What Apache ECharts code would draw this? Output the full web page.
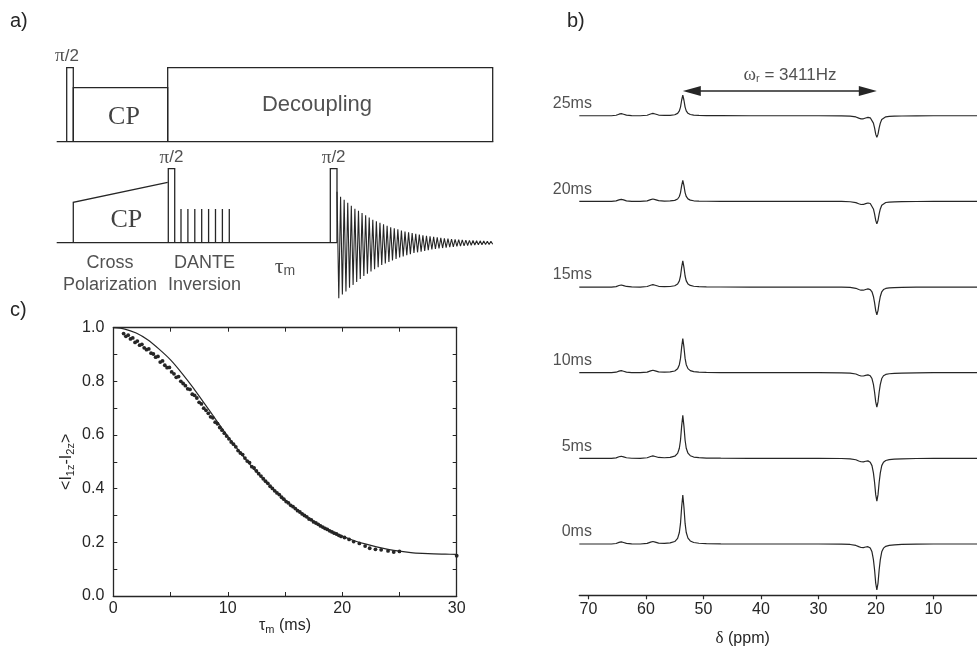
<!DOCTYPE html>
<html>
<head>
<meta charset="utf-8">
<script src="https://cdn.jsdelivr.net/npm/echarts@6.0.0/dist/echarts.min.js"></script>
<style>
  html, body { margin: 0; padding: 0; background: #fff; }
  #chart { width: 977px; height: 648px; }
</style>
</head>
<body>
<div id="chart"></div>
<script>
// ---------- (a) pulse sequence: time in arbitrary units 0–100, levels relative to a full pulse ----------
const protonBlocks = [[2.29, 3.80, 1.0], [3.80, 25.42, 0.73], [25.42, 99.86, 1.0]]; // [start, end, level]
const carbonRamp = [[3.80, 0.546], [25.42, 0.816]];
const carbonPulses = [[25.56, 27.03, 1.0], [62.67, 64.20, 1.0]];
const danteTimes = [28.47, 30.05, 31.63, 33.21, 34.79, 36.37, 37.95, 39.53];
const danteLevel = 0.455;
const fidSignal = [0.69, -0.75, 0.62, -0.70, 0.58, -0.66, 0.54, -0.61, 0.50, -0.57, 0.46, -0.53,
  0.43, -0.49, 0.40, -0.45, 0.37, -0.42, 0.34, -0.39, 0.31, -0.36, 0.29, -0.33, 0.27, -0.30,
  0.25, -0.28, 0.23, -0.26, 0.21, -0.24, 0.195, -0.22, 0.18, -0.20, 0.165, -0.185, 0.15, -0.17,
  0.14, -0.155, 0.13, -0.14, 0.12, -0.13, 0.11, -0.12, 0.10, -0.11, 0.092, -0.10, 0.085, -0.092,
  0.078, -0.085, 0.072, -0.078, 0.066, -0.072, 0.06, -0.066, 0.055, -0.06, 0.05, -0.055,
  0.046, -0.05, 0.042, -0.046, 0.038, -0.042, 0.035, -0.038, 0.032, -0.035, 0.029, -0.032,
  0.027, -0.029, 0.025, -0.027, 0.023, -0.025, 0.021, -0.023, 0.02, -0.02];

// ---------- (b) 13C spectra after DANTE inversion ----------
const ppmAxis = [71.6, 68, 66, 65.2, 64.7, 64.3, 63.9, 63.4, 62.5, 61, 59.8, 59.2, 58.8, 58.4, 57.8,
  56.8, 55.8, 55.0, 54.5, 54.2, 54.0, 53.8, 53.6, 53.4, 53.2, 53.0, 52.7, 52.3, 51.7, 50.8, 49.5,
  47, 42, 35, 30, 26, 24.5, 23.5, 23.0, 22.6, 22.2, 21.8, 21.4, 21.0, 20.7, 20.45, 20.25, 20.05,
  19.85, 19.65, 19.45, 19.25, 19.0, 18.7, 18.3, 17.7, 16.8, 15.5, 13, 10, 5, 0];
// line shape of the 53.6 ppm resonance (normalised)
const upfieldLine = [0, 0, 0, 0, 0, 0, 0, 0, 0, 0, 0.002, 0.003, 0.004, 0.005, 0.007,
  0.011, 0.022, 0.05, 0.115, 0.235, 0.42, 0.75, 1, 0.75, 0.42, 0.235, 0.12, 0.062, 0.03, 0.015, 0.007,
  0.003, 0, 0, 0, 0, 0, 0, 0, 0, 0, 0, 0, 0, 0, 0, 0, 0,
  0, 0, 0, 0, 0, 0, 0, 0, 0, 0, 0, 0, 0, 0];
// line shape of the inverted 19.9 ppm resonance (normalised)
const invertedLine = [0, 0, 0, 0, 0, 0, 0, 0, 0, 0, 0, 0, 0, 0, 0,
  0, 0, 0, 0, 0, 0, 0, 0, 0, 0, 0, 0, 0, 0, 0, 0,
  0, 0, 0, 0, 0.003, 0.006, 0.01, 0.013, 0.017, 0.022, 0.03, 0.045, 0.085, 0.17, 0.34, 0.56, 0.85,
  1, 0.85, 0.56, 0.34, 0.17, 0.09, 0.05, 0.03, 0.018, 0.01, 0.004, 0, 0, 0];
// small side bands and shoulder, common to all spectra
const minorLines = [0, 0, 0, 0.01, 0.032, 0.042, 0.03, 0.012, 0.002, 0, 0.01, 0.035, 0.047, 0.034, 0.012,
  0.003, 0, 0, 0, 0, 0, 0, 0, 0, 0, 0, 0, 0, 0, 0, 0,
  0, 0, 0, 0, 0, -0.004, -0.02, -0.042, -0.055, -0.052, -0.033, -0.012, -0.004, 0, 0, 0, 0,
  0, 0, 0, 0, 0, 0, 0, 0, 0, 0, 0, 0, 0, 0];
const mixingTimes = ['0ms', '5ms', '10ms', '15ms', '20ms', '25ms'];
const upfieldHeight = [1.0, 0.878, 0.694, 0.537, 0.429, 0.422];
const invertedDepth = [0.939, 0.871, 0.702, 0.565, 0.455, 0.441];
const ppmTicks = [10, 20, 30, 40, 50, 60, 70];
const rotorSpan = [53.6, 19.85]; // ppm of the two resonances, 3411 Hz apart

// ---------- (c) zz-magnetisation exchange curve ----------
const exchangePoints = [[0.9, 0.978], [1.1, 0.968], [1.3, 0.972], [1.5, 0.958], [1.7, 0.962], [1.9, 0.945],
  [2.1, 0.950], [2.3, 0.935], [2.5, 0.938], [2.7, 0.925], [2.9, 0.918], [3.1, 0.921], [3.3, 0.905],
  [3.5, 0.902], [3.7, 0.890], [3.9, 0.893], [4.1, 0.872], [4.3, 0.876], [4.5, 0.860], [4.7, 0.851],
  [4.9, 0.852], [5.1, 0.835], [5.3, 0.828], [5.5, 0.815], [5.7, 0.818], [5.9, 0.800], [6.1, 0.792],
  [6.3, 0.784], [6.5, 0.772], [6.7, 0.770], [6.9, 0.752], [7.1, 0.748], [7.3, 0.738], [7.5, 0.722],
  [7.7, 0.716], [7.9, 0.700], [8.1, 0.692], [8.3, 0.681], [8.5, 0.668], [8.7, 0.664], [8.9, 0.648],
  [9.1, 0.642], [9.3, 0.628], [9.5, 0.618], [9.7, 0.607], [9.9, 0.596], [10.1, 0.586], [10.3, 0.574],
  [10.5, 0.566], [10.7, 0.556], [10.9, 0.542], [11.1, 0.533], [11.3, 0.527], [11.5, 0.514],
  [11.7, 0.503], [11.9, 0.497], [12.1, 0.482], [12.3, 0.477], [12.5, 0.466], [12.7, 0.456],
  [12.9, 0.447], [13.1, 0.437], [13.3, 0.428], [13.5, 0.420], [13.7, 0.409], [13.9, 0.401],
  [14.1, 0.392], [14.3, 0.384], [14.5, 0.378], [14.7, 0.368], [14.9, 0.361], [15.1, 0.352],
  [15.3, 0.347], [15.5, 0.338], [15.7, 0.333], [15.9, 0.326], [16.1, 0.318], [16.3, 0.313],
  [16.5, 0.306], [16.7, 0.300], [16.9, 0.295], [17.1, 0.287], [17.3, 0.284], [17.5, 0.276],
  [17.7, 0.272], [17.9, 0.267], [18.1, 0.261], [18.3, 0.257], [18.5, 0.252], [18.7, 0.248],
  [18.9, 0.243], [19.1, 0.239], [19.3, 0.234], [19.5, 0.231], [19.7, 0.226], [19.9, 0.222],
  [20.2, 0.218], [20.6, 0.211], [21.0, 0.203], [21.5, 0.196], [22.0, 0.186], [22.4, 0.178],
  [22.9, 0.174], [23.4, 0.172], [24.0, 0.168], [24.5, 0.164], [25.0, 0.166], [30.0, 0.150]];
const fitCurve = [[0, 1.0], [1, 0.995], [2, 0.98], [3, 0.955], [4, 0.92], [5, 0.88], [6, 0.83],
  [7, 0.775], [8, 0.715], [9, 0.655], [10, 0.595], [11, 0.54], [12, 0.487], [13, 0.44], [14, 0.397],
  [15, 0.358], [16, 0.323], [17, 0.292], [18, 0.265], [19, 0.242], [20, 0.223], [21, 0.207],
  [22, 0.194], [23, 0.183], [24, 0.174], [25, 0.167], [26, 0.162], [27, 0.159], [28, 0.157],
  [29, 0.156], [30, 0.155]];
const timeTicks = [0, 10, 20, 30];

// ---------- drawing ----------
const INK = '#262626';
const SANS = '"Liberation Sans", Arial, Helvetica, sans-serif';
const SERIF = '"Liberation Serif", "Times New Roman", serif';
const CH1 = 1.365;      // proton channel drawn above the carbon channel
const STACK = 1.748;    // vertical step between spectra
const HEAD = 1.57;      // arrow head length in ppm

const rect = (s, e, h, base) => [[s, base], [s, base + h], [e, base + h], [e, base]];
const seqPaths = [
  { coords: [[0, CH1], [100, CH1]] },
  ...protonBlocks.map(([s, e, h]) => ({ coords: rect(s, e, h, CH1) })),
  { coords: [[0, 0], [carbonPulses[1][1], 0]] },
  { coords: [[carbonRamp[0][0], 0], carbonRamp[0], carbonRamp[1]] },
  ...carbonPulses.map(([s, e, h]) => ({ coords: rect(s, e, h, 0) })),
  ...danteTimes.map(t => ({ coords: [[t, 0], [t, danteLevel]] }))
];

const halfPi = '{p|π}{t|/2}';
const seqText = [
  { value: [2.36, 2.523], name: halfPi },
  { value: [26.29, 1.149], name: halfPi },
  { value: [63.44, 1.149], name: halfPi },
  { value: [15.41, 1.695], name: '{cp|CP}' },
  { value: [15.94, 0.307], name: '{cp|CP}' },
  { value: [59.62, 1.861], name: '{dec|Decoupling}' },
  { value: [12.21, -0.426], name: '{lab|Cross}\n{lab|Polarization}' },
  { value: [33.85, -0.426], name: '{lab|DANTE}\n{lab|Inversion}' },
  { value: [52.29, -0.33], name: '{tau|τ}{sub|m}' }
];

const spectraSeries = mixingTimes.map((label, k) => ({
  type: 'line', xAxisIndex: 2, yAxisIndex: 2, symbol: 'none', silent: true,
  lineStyle: { color: INK, width: 1.2 },
  data: ppmAxis.map((p, i) => [p,
    k * STACK + minorLines[i] + upfieldHeight[k] * upfieldLine[i] - invertedDepth[k] * invertedLine[i]])
}));

const arrowY = 5 * STACK + 0.504;

// centred text anchored on a data point
const centredLabel = rich => ({
  show: true, position: [0, 0], align: 'center', verticalAlign: 'middle',
  formatter: p => p.name, color: INK, textBorderWidth: 0, rich
});

const option = {
  animation: false,
  backgroundColor: '#fff',
  textStyle: { fontFamily: SANS, color: INK },
  grid: [
    { left: 56.7, width: 436.6, top: 20.7, bottom: 331.3, outerBoundsMode: 'none' },
    { left: 337, right: 484.3, top: 20.7, bottom: 331.3, outerBoundsMode: 'none' },
    { left: 579.3, right: -14, top: 60, bottom: 52.7, outerBoundsMode: 'none' },
    { left: 113.3, right: 520.3, top: 327.7, bottom: 52, outerBoundsMode: 'none' }
  ],
  xAxis: [
    { gridIndex: 0, type: 'value', min: 0, max: 100, show: false },
    { gridIndex: 1, type: 'category', boundaryGap: false, data: fidSignal.map((_, i) => i), show: false },
    {
      gridIndex: 2, type: 'value', inverse: true, min: 0, max: 71.6, interval: 10,
      axisLine: { show: true, onZero: false, lineStyle: { color: INK, width: 1.3 } },
      axisTick: { show: true, length: 4, lineStyle: { color: INK, width: 1.2 }, customValues: ppmTicks },
      axisLabel: { fontSize: 16, color: INK, margin: 6, fontFamily: SANS, customValues: ppmTicks },
      splitLine: { show: false }
    },
    {
      gridIndex: 3, type: 'value', position: 'bottom', min: 0, max: 30, interval: 10,
      axisLine: { show: true, onZero: false, lineStyle: { color: INK, width: 1.3 } },
      axisTick: { show: true, inside: true, length: 4, lineStyle: { color: INK } },
      minorTick: { show: true, splitNumber: 2, length: 4, lineStyle: { color: INK } },
      axisLabel: { fontSize: 16, color: INK, margin: 5, customValues: timeTicks },
      splitLine: { show: false },
      name: '{t|τ}{s|m}{t| (ms)}', nameLocation: 'middle', nameGap: 17,
      nameTextStyle: { rich: {
        t: { fontSize: 16, color: INK, fontFamily: SANS },
        s: { fontSize: 11, color: INK, fontFamily: SANS, padding: [8, 0, 0, 0] }
      } }
    },
    {
      gridIndex: 3, type: 'value', position: 'top', min: 0, max: 30, interval: 10,
      axisLine: { show: true, onZero: false, lineStyle: { color: INK, width: 1.3 } },
      axisTick: { show: true, inside: true, length: 4, lineStyle: { color: INK } },
      minorTick: { show: true, splitNumber: 2, length: 4, lineStyle: { color: INK } },
      axisLabel: { show: false }, splitLine: { show: false }
    }
  ],
  yAxis: [
    { gridIndex: 0, type: 'value', min: -1, max: 3, show: false },
    { gridIndex: 1, type: 'value', min: -1, max: 3, show: false },
    { gridIndex: 2, type: 'value', min: -1.047, max: 9.878, show: false },
    {
      gridIndex: 3, type: 'value', position: 'left', min: 0, max: 1, interval: 0.2,
      axisLine: { show: true, onZero: false, lineStyle: { color: INK, width: 1.3 } },
      axisTick: { show: true, inside: true, length: 4, lineStyle: { color: INK } },
      minorTick: { show: true, splitNumber: 2, length: 4, lineStyle: { color: INK } },
      axisLabel: { fontSize: 16, color: INK, margin: 9, formatter: v => v.toFixed(1) },
      splitLine: { show: false },
      name: '{n|<I}{s|1z}{n|-I}{s|2z}{n|>}', nameLocation: 'middle', nameGap: 37, nameRotate: 90,
      nameTextStyle: { rich: {
        n: { fontSize: 16, color: INK, fontFamily: SANS },
        s: { fontSize: 11, color: INK, fontFamily: SANS, padding: [8, 0, 0, 0] }
      } }
    },
    {
      gridIndex: 3, type: 'value', position: 'right', min: 0, max: 1, interval: 0.2,
      axisLine: { show: true, onZero: false, lineStyle: { color: INK, width: 1.3 } },
      axisTick: { show: true, inside: true, length: 4, lineStyle: { color: INK } },
      minorTick: { show: true, splitNumber: 2, length: 4, lineStyle: { color: INK } },
      axisLabel: { show: false }, splitLine: { show: false }
    }
  ],
  graphic: [
    { type: 'text', left: 10, top: 11, style: { text: 'a)', font: '20px ' + SANS, fill: INK } },
    { type: 'text', left: 567, top: 11, style: { text: 'b)', font: '20px ' + SANS, fill: INK } },
    { type: 'text', left: 10, top: 300, style: { text: 'c)', font: '20px ' + SANS, fill: INK } },
    {
      type: 'text', x: 742.7, y: 639,
      style: {
        text: '{d|δ}{n| (ppm)}', align: 'center', verticalAlign: 'middle',
        rich: {
          d: { fontSize: 17, fontFamily: SERIF, fill: INK },
          n: { fontSize: 16, fontFamily: SANS, fill: INK }
        }
      }
    }
  ],
  series: [
    // (a) sequence blocks
    {
      type: 'lines', coordinateSystem: 'cartesian2d', xAxisIndex: 0, yAxisIndex: 0, polyline: true,
      silent: true, lineStyle: { color: INK, width: 1.3, opacity: 1 }, data: seqPaths
    },
    {
      type: 'line', xAxisIndex: 1, yAxisIndex: 1, symbol: 'none', silent: true,
      lineStyle: { color: INK, width: 1.1 }, data: fidSignal
    },
    {
      type: 'scatter', xAxisIndex: 0, yAxisIndex: 0, symbolSize: 0, silent: true, clip: false,
      data: seqText,
      label: centredLabel({
        p: { fontFamily: SERIF, fontSize: 19, color: INK },
        t: { fontFamily: SANS, fontSize: 17, color: INK },
        cp: { fontFamily: SERIF, fontSize: 26, color: '#111' },
        dec: { fontFamily: SANS, fontSize: 22, color: INK },
        lab: { fontFamily: SANS, fontSize: 18, color: INK, lineHeight: 22 },
        tau: { fontFamily: SERIF, fontSize: 22, color: INK },
        sub: { fontFamily: SANS, fontSize: 14, color: INK, padding: [9, 0, 0, 0] }
      })
    },
    // (b) spectra
    ...spectraSeries,
    {
      type: 'scatter', xAxisIndex: 2, yAxisIndex: 2, symbolSize: 0, silent: true, clip: false,
      data: mixingTimes.map((t, k) => ({ value: [69.4, k * STACK + 0.245], name: t })),
      label: { show: true, position: 'left', distance: 0, formatter: p => p.name, fontSize: 16, color: INK, fontFamily: SANS }
    },
    {
      type: 'lines', coordinateSystem: 'cartesian2d', xAxisIndex: 2, yAxisIndex: 2, silent: true,
      symbol: ['triangle', 'triangle'], symbolSize: [[10, 18], [10, 18]],
      lineStyle: { color: INK, width: 1.6, opacity: 1 },
      data: [{ coords: [[rotorSpan[0] - HEAD, arrowY], [rotorSpan[1] + HEAD, arrowY]] }]
    },
    {
      type: 'scatter', xAxisIndex: 2, yAxisIndex: 2, symbolSize: 0, silent: true, clip: false,
      data: [{ value: [34.96, 5 * STACK + 0.83], name: '{w|ω}{s|r}{n| = 3411Hz}' }],
      label: centredLabel({
        w: { fontFamily: SERIF, fontSize: 19, color: INK },
        s: { fontFamily: SANS, fontSize: 11, color: INK, padding: [8, 0, 0, 0] },
        n: { fontFamily: SANS, fontSize: 17, color: INK }
      })
    },
    // (c) exchange data and fit
    {
      type: 'line', xAxisIndex: 3, yAxisIndex: 3, symbol: 'none', smooth: 0.3, silent: true,
      lineStyle: { color: INK, width: 1.2 }, data: fitCurve
    },
    {
      type: 'scatter', xAxisIndex: 3, yAxisIndex: 3, symbol: 'circle', symbolSize: 3.8, silent: true,
      itemStyle: { color: INK, opacity: 1 }, data: exchangePoints
    }
  ]
};

const chart = echarts.init(document.getElementById('chart'));
chart.setOption(option);
</script>
</body>
</html>
